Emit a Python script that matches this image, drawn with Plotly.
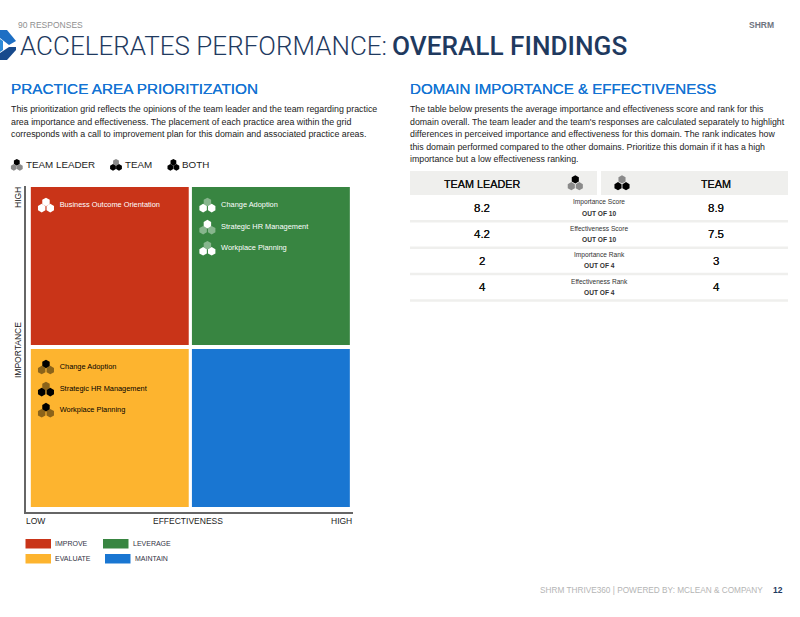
import plotly.graph_objects as go

# quadrant grid
quad_names = ["IMPROVE", "LEVERAGE", "EVALUATE", "MAINTAIN"]
quad_x = [2.47, 7.52, 2.47, 7.52]
quad_base = [5.06, 5.06, 0, 0]
quad_height = [4.94, 4.94, 4.94, 4.94]
quad_colors = ["#c93418", "#388541", "#fdb42f", "#1976d2"]

# practice areas placed in the grid
area_names = ["Business Outcome Orientation", "Change Adoption", "Strategic HR Management", "Workplace Planning",
              "Change Adoption", "Strategic HR Management", "Workplace Planning"]
area_x = [0.47, 5.53, 5.53, 5.53, 0.47, 0.47, 0.47]
area_y = [9.44, 9.44, 8.75, 8.09, 4.38, 3.69, 3.03]
area_who = ["both", "team", "leader", "team", "leader", "team", "leader"]
area_text_col = ["white", "white", "white", "white", "black", "black", "black"]

# table
row_labels = ["Importance Score", "Effectiveness Score", "Importance Rank", "Effectiveness Rank"]
row_out_of = ["OUT OF 10", "OUT OF 10", "OUT OF 4", "OUT OF 4"]
leader_vals = ["8.2", "4.2", "2", "4"]
team_vals = ["8.9", "7.5", "3", "4"]

left_text = ["This prioritization grid reflects the opinions of the team leader and the team regarding practice",
             "area importance and effectiveness. The placement of each practice area within the grid",
             "corresponds with a call to improvement plan for this domain and associated practice areas."]
right_text = ["The table below presents the average importance and effectiveness score and rank for this",
              "domain overall. The team leader and the team's responses are calculated separately to highlight",
              "differences in perceived importance and effectiveness for this domain. The rank indicates how",
              "this domain performed compared to the other domains. Prioritize this domain if it has a high",
              "importance but a low effectiveness ranking."]

SANS = "Liberation Sans"
W, H = 800, 617
UNIT = 32.0  # pixels per grid unit


def px(x):
    return x / W


def py(y):
    return 1 - y / H


fig = go.Figure()


def note(x, y, text, size=9, color="#222222", anchor="left", family=SANS, weight=None, angle=0, shadow=None):
    # annotations carry about 2px of padding
    if not angle:
        x += {"left": -2, "right": 2, "center": 0}[anchor]
    fig.add_annotation(xref="paper", yref="paper", x=px(x), y=py(y), text=text, showarrow=False,
                       xanchor=anchor, yanchor="middle", textangle=angle,
                       font=dict(family=family, size=size, color=color, weight=weight, shadow=shadow))


def box(x0, y0, x1, y1, color):
    fig.add_shape(type="rect", xref="paper", yref="paper", x0=px(x0), x1=px(x1), y0=py(y0), y1=py(y1),
                  fillcolor=color, line_width=0, layer="below")


# grid quadrants
fig.add_bar(x=quad_x, y=quad_height, base=quad_base, width=4.95, marker=dict(color=quad_colors, line_width=0),
            showlegend=False, hoverinfo="skip")

# icons in the grid, drawn from the area positions
off_x = [0, -4.3 / UNIT, 4.3 / UNIT]
off_y = [2.9 / UNIT, -3.2 / UNIT, -3.2 / UNIT]
for name, x, y, who, col in zip(area_names, area_x, area_y, area_who, area_text_col):
    if col == "white":
        strong, weak = "#ffffff", "rgba(255,255,255,0.4)"
    else:
        strong, weak = "#000000", "rgba(0,0,0,0.45)"
    if who == "both":
        colors = [strong, strong, strong]
    elif who == "leader":
        colors = [strong, weak, weak]
    else:
        colors = [weak, strong, strong]
    fig.add_scatter(x=[x + o for o in off_x], y=[y + o for o in off_y], mode="markers", showlegend=False,
                    marker=dict(symbol="hexagon", size=8.6, color=colors, line_width=0), hoverinfo="skip")
fig.add_scatter(x=[x + 0.43 for x in area_x], y=area_y, mode="text", text=area_names,
                textposition="middle right", showlegend=False, hoverinfo="skip",
                textfont=dict(family=SANS, size=7.4, color=area_text_col))

# page level icons use a pixel axis laid over the page
legend_icons = [(16.8, 165, "leader", 3, 6.7), (116, 165, "team", 3, 6.7), (173.4, 165, "both", 3, 6.7),
                (575.3, 183, "leader", 4, 8.2), (622, 183, "team", 4, 8.2)]
for x, y, who, dx, size in legend_icons:
    strong, weak = "#000000", "#8a8a8a"
    colors = {"leader": [strong, weak, weak], "team": [weak, strong, strong], "both": [strong, strong, strong]}[who]
    fig.add_scatter(x=[x, x - dx, x + dx], y=[y - dx * 0.9, y + dx * 0.8, y + dx * 0.8], xaxis="x2", yaxis="y2",
                    mode="markers", showlegend=False, hoverinfo="skip",
                    marker=dict(symbol="hexagon", size=size, color=colors, line_width=0))

# logo, cut by the page edge
logo_paths = ["M 0 30 L 7 30 L 16 41 L 9 45 L 0 38 Z", "M 0 53 L 9 47 L 16 47 L 16 50 L 7 60 L 0 60 Z",
              "M 0 39 L 3 41 L 3 50 L 0 52 Z"]
logo_cols = ["#1d6fc4", "#174a8c", "#2c8ad8"]
for path, col in zip(logo_paths, logo_cols):
    fig.add_shape(type="path", path=path, xref="x2", yref="y2", fillcolor=col, line_width=0)

# header
note(18, 25, "90 RESPONSES", 8.5, "#8f8f8f")
note(774, 25, "<b>SHRM</b>", 8.5, "#6f7480", "right")
note(20, 46, "ACCELERATES PERFORMANCE:", 26, "#1f3a5f", family="Roboto", weight=300)
note(392, 46, "OVERALL FINDINGS", 26.2, "#1f3a5f", family="Roboto", weight=500)

# left column
thick_blue = "0 0 0.6px #1473d3"
note(11, 89, "PRACTICE AREA PRIORITIZATION", 15.3, "#1473d3", shadow=thick_blue)
for i, line in enumerate(left_text):
    note(11, 109 + i * 12.5, line, 8.85)
note(26, 165, "TEAM LEADER", 9.8)
note(125, 165, "TEAM", 9.8)
note(182, 165, "BOTH", 9.8)

# axis captions
note(18, 198, "HIGH", 8.5, angle=-90, anchor="center")
note(18, 350, "IMPORTANCE", 8.5, angle=-90, anchor="center")
note(26, 521, "LOW", 8.5)
note(188, 521, "EFFECTIVENESS", 8.5, anchor="center")
note(352, 521, "HIGH", 8.5, anchor="right")

# quadrant key
key_pos = [(25.5, 539), (103, 539), (25.5, 554), (105, 554)]
for name, col, (x, y) in zip(quad_names, quad_colors, key_pos):
    box(x, y, x + 25.5, y + 9.5, col)
    note(x + 29.5, y + 4.5, name, 7, "#333344")

# right column
note(410, 89, "DOMAIN IMPORTANCE &amp; EFFECTIVENESS", 15.1, "#1473d3", shadow=thick_blue)
for i, line in enumerate(right_text):
    note(410, 109 + i * 12.5, line, 8.8)

box(410, 171, 597, 195, "#efefed")
box(601, 171, 788, 195, "#efefed")
thick_dark = "0 0 0.6px #111111"
note(482, 184, "TEAM LEADER", 10.8, "#111111", "center", shadow=thick_dark)
note(716, 184, "TEAM", 10.8, "#111111", "center", shadow=thick_dark)
for i in range(4):
    value_y = 208 + i * 26.4
    note(482, value_y, leader_vals[i], 11.5, "#111111", "center", shadow=thick_dark)
    note(716, value_y, team_vals[i], 11.5, "#111111", "center", shadow=thick_dark)
    note(599, value_y - 6, row_labels[i], 6.6, "#333333", "center")
    note(599, value_y + 5, "<b>" + row_out_of[i] + "</b>", 6.6, "#333333", "center")
    box(410, value_y + 12, 788, value_y + 14.5, "#efefed")

# footer
note(763, 590, "SHRM THRIVE360 | POWERED BY: MCLEAN &amp; COMPANY", 8.25, "#b5b5b5", "right")
note(783, 590, "<b>12</b>", 8.5, "#1f3a5f", "right")

fig.update_layout(
    width=W, height=H, margin=dict(l=0, r=0, t=0, b=0), showlegend=False,
    paper_bgcolor="white", plot_bgcolor="rgba(0,0,0,0)", barmode="overlay",
    xaxis=dict(domain=[px(26), px(353)], range=[-5 / UNIT, 10 + 3 / UNIT], showticklabels=False, ticks="",
               showgrid=False, zeroline=False, showline=True, linecolor="#666666", linewidth=2, fixedrange=True),
    yaxis=dict(domain=[py(512), py(186)], range=[-5 / UNIT, 10 + 1 / UNIT], showticklabels=False, ticks="",
               showgrid=False, zeroline=False, showline=True, linecolor="#666666", linewidth=2, fixedrange=True),
    xaxis2=dict(domain=[0, 1], range=[0, W], visible=False, anchor="y2", fixedrange=True),
    yaxis2=dict(domain=[0, 1], range=[H, 0], visible=False, anchor="x2", fixedrange=True),
)

fig.write_html("out.html", config={"displayModeBar": False}, post_script="document.body.style.margin='0';")
